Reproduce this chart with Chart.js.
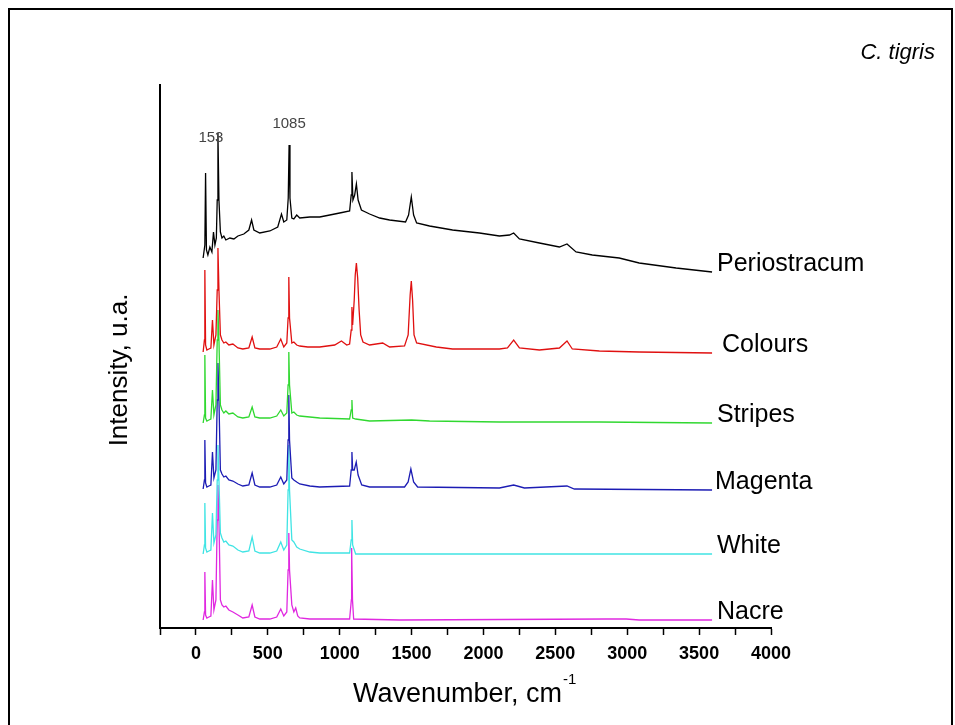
<!DOCTYPE html>
<html lang="en">
<head>
<meta charset="UTF-8" />
<title>C. tigris Raman spectra</title>
<script src="https://cdn.jsdelivr.net/npm/chart.js"></script>
<style>
    html, body { margin: 0; padding: 0; background: #fff; }
    .wrap { position: relative; width: 955px; height: 725px; }
    .frame {
        position: absolute; left: 8px; top: 8px; width: 945px; height: 740px;
        border: 2px solid #000; box-sizing: border-box; pointer-events: none;
    }
    canvas { position: absolute; left: 0; top: 0; }
</style>
</head>
<body>
<div class="wrap">
    <canvas id="chart" width="955" height="725"></canvas>
    <div class="frame"></div>
</div>
<script>
// wavenumber (cm-1), intensity (a.u., spectra stacked with offsets)
const periostracum = [
    [50, 370], [62, 383], [67, 455], [73, 378], [83, 373], [97, 381], [111, 376], [122, 396],
    [132, 383], [142, 390], [148, 428], [153, 495], [160, 428], [170, 396], [181, 390], [194, 392],
    [208, 388], [236, 390], [264, 389], [292, 392], [333, 394], [368, 398], [387, 408], [403, 398],
    [444, 395], [514, 397], [569, 401], [595, 414], [611, 406], [632, 408], [642, 430], [648, 483],
    [654, 430], [667, 410], [681, 409], [701, 413], [722, 410], [792, 411], [861, 411], [931, 413],
    [1000, 415], [1069, 417], [1080, 433], [1085, 456], [1092, 428], [1104, 433], [1116, 444],
    [1128, 428], [1151, 418], [1208, 414], [1278, 410], [1347, 408], [1458, 406], [1479, 413],
    [1498, 431], [1514, 413], [1535, 405], [1625, 402], [1785, 398], [1972, 395], [2111, 392],
    [2181, 393], [2210, 395], [2250, 389], [2389, 385], [2528, 381], [2581, 384], [2644, 376],
    [2757, 373], [2944, 370], [3083, 365], [3340, 360], [3590, 356]
];
const colours = [
    [50, 276], [59, 288], [62, 358], [67, 283], [76, 278], [90, 279], [104, 280], [115, 308],
    [125, 283], [139, 293], [148, 338], [153, 380], [160, 338], [170, 293], [181, 288], [194, 285],
    [208, 286], [229, 283], [257, 284], [292, 280], [326, 279], [368, 280], [391, 291], [410, 280],
    [444, 279], [514, 279], [562, 281], [590, 289], [611, 281], [632, 285], [641, 310], [646, 351],
    [651, 310], [667, 285], [681, 286], [701, 283], [722, 282], [778, 281], [861, 281], [965, 283],
    [1012, 287], [1049, 283], [1069, 284], [1080, 298], [1085, 321], [1090, 303], [1101, 328],
    [1108, 353], [1116, 365], [1125, 350], [1135, 318], [1146, 293], [1162, 286], [1208, 283],
    [1299, 285], [1347, 281], [1451, 282], [1476, 293], [1490, 333], [1498, 347], [1507, 328],
    [1517, 293], [1535, 285], [1672, 281], [1785, 279], [2111, 279], [2167, 280], [2210, 288],
    [2250, 280], [2389, 278], [2528, 280], [2581, 287], [2618, 279], [2806, 277], [3083, 276],
    [3590, 275]
];
const stripes = [
    [50, 205], [59, 213], [62, 273], [67, 210], [76, 207], [90, 208], [104, 209], [115, 238],
    [125, 213], [139, 223], [148, 288], [153, 318], [160, 288], [170, 223], [181, 218], [194, 215],
    [208, 217], [229, 214], [257, 215], [292, 211], [326, 210], [368, 211], [391, 221], [410, 211],
    [444, 210], [514, 210], [562, 212], [590, 218], [611, 212], [632, 215], [641, 243], [646, 276],
    [651, 243], [667, 215], [681, 216], [701, 213], [722, 212], [792, 211], [861, 210], [1069, 209],
    [1080, 218], [1085, 228], [1090, 210], [1111, 209], [1208, 207], [1500, 208], [1625, 207],
    [2111, 206], [2806, 206], [3590, 205]
];
const magenta = [
    [50, 139], [59, 148], [62, 188], [67, 145], [76, 141], [90, 142], [104, 143], [115, 176],
    [125, 150], [139, 158], [148, 228], [153, 265], [160, 228], [170, 158], [181, 154], [194, 151],
    [208, 152], [229, 148], [257, 147], [292, 144], [326, 142], [368, 143], [391, 155], [410, 143],
    [444, 141], [514, 141], [562, 143], [590, 151], [611, 144], [632, 148], [641, 188], [646, 233],
    [651, 188], [667, 150], [681, 148], [701, 146], [722, 144], [792, 142], [861, 141], [1069, 142],
    [1080, 158], [1085, 176], [1090, 158], [1101, 158], [1115, 166], [1128, 153], [1153, 143],
    [1208, 141], [1451, 141], [1476, 146], [1495, 159], [1514, 146], [1542, 141], [2111, 140],
    [2210, 143], [2285, 140], [2581, 142], [2632, 139], [3590, 138]
];
const white = [
    [50, 74], [59, 83], [62, 125], [67, 80], [76, 76], [90, 77], [104, 78], [115, 115],
    [125, 85], [139, 93], [148, 148], [153, 183], [160, 148], [170, 95], [181, 90], [194, 86],
    [208, 87], [229, 83], [257, 82], [292, 78], [326, 76], [368, 77], [391, 91], [410, 77],
    [444, 75], [514, 75], [562, 77], [590, 86], [611, 78], [632, 83], [641, 138], [646, 183],
    [651, 138], [667, 88], [681, 86], [701, 81], [722, 79], [792, 76], [861, 75], [1069, 75],
    [1080, 88], [1085, 108], [1090, 83], [1111, 74], [1417, 74], [3590, 74]
];
const nacre = [
    [50, 8], [59, 16], [62, 56], [67, 13], [76, 10], [90, 11], [104, 12], [115, 48],
    [125, 18], [139, 28], [148, 108], [153, 143], [160, 108], [170, 28], [181, 23], [194, 21],
    [208, 22], [229, 18], [257, 16], [292, 13], [326, 10], [368, 11], [391, 23], [410, 11],
    [444, 9], [514, 9], [562, 11], [590, 19], [611, 12], [632, 16], [641, 58], [646, 95],
    [651, 58], [667, 23], [681, 16], [694, 20], [708, 12], [722, 10], [792, 9], [1069, 9],
    [1081, 28], [1083, 80], [1089, 28], [1097, 9], [1417, 8], [2854, 9], [2993, 9], [3083, 8],
    [3590, 8]
];

const seriesNames = ["Periostracum", "Colours", "Stripes", "Magenta", "White", "Nacre"];
const seriesData = [periostracum, colours, stripes, magenta, white, nacre];
const seriesColors = ["#000000", "#e01010", "#30d830", "#1c1cb4", "#40e4e4", "#e028e0"];
const xTicksMajor = [0, 500, 1000, 1500, 2000, 2500, 3000, 3500, 4000];

const FONT = "'Liberation Sans', Arial, sans-serif";

// texts: series names, peak marks, axis titles, sample name
const textPlugin = {
    id: "texts",
    afterDraw(chart) {
        const ctx = chart.ctx;
        const x = chart.scales.x, y = chart.scales.y;
        ctx.save();
        ctx.fillStyle = "#000";
        ctx.textBaseline = "middle";
        ctx.textAlign = "left";
        ctx.font = "25px " + FONT;
        const labelX = [717, 722, 717, 715, 717, 717];
        seriesData.forEach((d, i) => {
            const last = d[d.length - 1];
            ctx.fillText(seriesNames[i], labelX[i], y.getPixelForValue(last[1]) - 8);
        });

        // peak labels above the top spectrum
        ctx.fillStyle = "#444";
        ctx.font = "15px " + FONT;
        ctx.textAlign = "center";
        ctx.fillText("153", x.getPixelForValue(153) - 7, 138);
        ctx.fillText("1085", x.getPixelForValue(648), 124);

        // sample name
        ctx.fillStyle = "#000";
        ctx.font = "italic 22px " + FONT;
        ctx.textAlign = "right";
        ctx.fillText("C. tigris", 935, 53);

        // x title with superscript
        ctx.font = "27px " + FONT;
        ctx.textAlign = "left";
        const t = "Wavenumber, cm";
        const w = ctx.measureText(t).width;
        const cx = (x.left + x.right) / 2 - 8;
        ctx.fillText(t, cx - w / 2, 695);
        ctx.font = "15px " + FONT;
        ctx.fillText("-1", cx + w / 2 + 1, 680);

        // y title
        ctx.font = "26px " + FONT;
        ctx.translate(120, 370);
        ctx.rotate(-Math.PI / 2);
        ctx.textAlign = "center";
        ctx.fillText("Intensity, u.a.", 0, 0);
        ctx.restore();
    }
};

new Chart(document.getElementById("chart"), {
    type: "line",
    data: {
        datasets: seriesData.map((d, i) => ({
            label: seriesNames[i],
            data: d,
            borderColor: seriesColors[i],
            borderWidth: 1.3,
            pointRadius: 0,
            tension: 0,
            fill: false
        }))
    },
    options: {
        responsive: false,
        animation: false,
        events: [],
        layout: { padding: { left: 160, right: 184, top: 85, bottom: 37 } },
        plugins: { legend: { display: false }, tooltip: { enabled: false } },
        scales: {
            x: {
                type: "linear",
                min: -250,
                max: 4000,
                afterFit: s => { s.height = 60; },
                ticks: {
                    stepSize: 250,
                    autoSkip: false,
                    maxRotation: 0,
                    padding: 8,
                    color: "#000",
                    font: { family: FONT, size: 18, weight: "bold" },
                    callback: v => (xTicksMajor.includes(v) ? String(v) : "")
                },
                grid: {
                    drawOnChartArea: false,
                    drawTicks: true,
                    tickLength: 7,
                    tickColor: "#000",
                    tickWidth: 1.5
                },
                border: { display: true, color: "#000", width: 2 }
            },
            y: {
                min: 0,
                max: 543,
                afterFit: s => { s.width = 0; },
                ticks: { display: false },
                grid: { drawOnChartArea: false, drawTicks: false },
                border: { display: true, color: "#000", width: 2 }
            }
        }
    },
    plugins: [textPlugin]
});
</script>
</body>
</html>
